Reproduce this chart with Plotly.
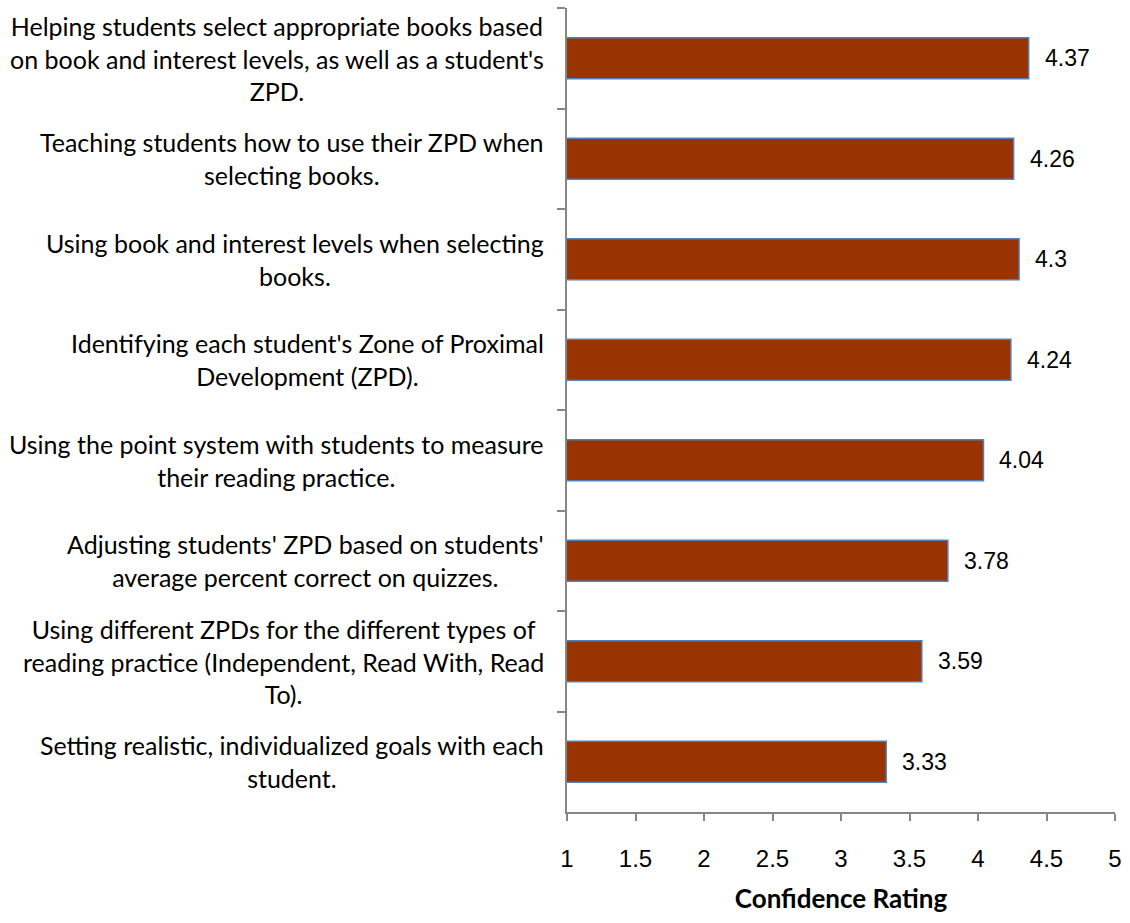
import plotly.graph_objects as go

categories = [
    "Helping students select appropriate books based<br>on book and interest levels, as well as a student's<br>ZPD.",
    "Teaching students how to use their ZPD when<br>selecting books.",
    "Using book and interest levels when selecting<br>books.",
    "Identifying each student's Zone of Proximal<br>Development (ZPD).",
    "Using the point system with students to measure<br>their reading practice.",
    "Adjusting students' ZPD based on students'<br>average percent correct on quizzes.",
    "Using different ZPDs for the different types of<br>reading practice (Independent, Read With, Read<br>To).",
    "Setting realistic, individualized goals with each<br>student.",
]
values = [4.37, 4.26, 4.3, 4.24, 4.04, 3.78, 3.59, 3.33]
value_labels = ["4.37", "4.26", "4.3", "4.24", "4.04", "3.78", "3.59", "3.33"]
x_ticks = [1, 1.5, 2, 2.5, 3, 3.5, 4, 4.5, 5]
x_title = "Confidence Rating"

cat_ids = [f"c{i}" for i in range(len(categories))]

fig = go.Figure()
fig.add_trace(go.Bar(
    y=cat_ids, x=values, base=0, orientation="h", width=0.41,
    marker=dict(color="#993300", line=dict(color="#4F81BD", width=1.5)),
    hoverinfo="skip",
))

annotations = []
for cid, lab in zip(cat_ids, categories):
    annotations.append(dict(
        xref="paper", yref="y", x=0, y=cid, xanchor="right", yanchor="middle",
        xshift=-21, text=lab, align="center", showarrow=False,
        font=dict(family="Lato", size=25, color="#000000"),
    ))
for cid, v, t in zip(cat_ids, values, value_labels):
    annotations.append(dict(
        xref="x", yref="y", x=v, y=cid, xanchor="left", yanchor="middle",
        xshift=14, text=t, showarrow=False,
        font=dict(family="Liberation Sans", size=23, color="#000000"),
    ))

fig.update_layout(
    width=1130, height=923,
    margin=dict(l=567, r=9, t=8, b=111),
    paper_bgcolor="white", plot_bgcolor="white",
    showlegend=False,
    annotations=annotations,
    xaxis=dict(
        range=[1, 5], tickvals=x_ticks, ticktext=[str(t) for t in x_ticks],
        ticks="outside", ticklen=7, tickcolor="#868686", tickwidth=1.5,
        showline=True, linecolor="#868686", linewidth=1.5,
        showgrid=False, zeroline=False,
        tickfont=dict(family="Liberation Sans", size=24, color="#000000"),
        ticklabelstandoff=17,
        title=dict(text="<b>" + x_title + "</b>", standoff=19,
                   font=dict(family="Lato", size=26, color="#000000")),
    ),
    yaxis=dict(
        type="category", categoryorder="array", categoryarray=cat_ids,
        autorange="reversed", tickson="boundaries",
        ticks="outside", ticklen=8, tickcolor="#868686", tickwidth=1.5,
        showline=True, linecolor="#868686", linewidth=1.5,
        showgrid=False, zeroline=False, showticklabels=False,
    ),
)

fig.write_html("out.html")
